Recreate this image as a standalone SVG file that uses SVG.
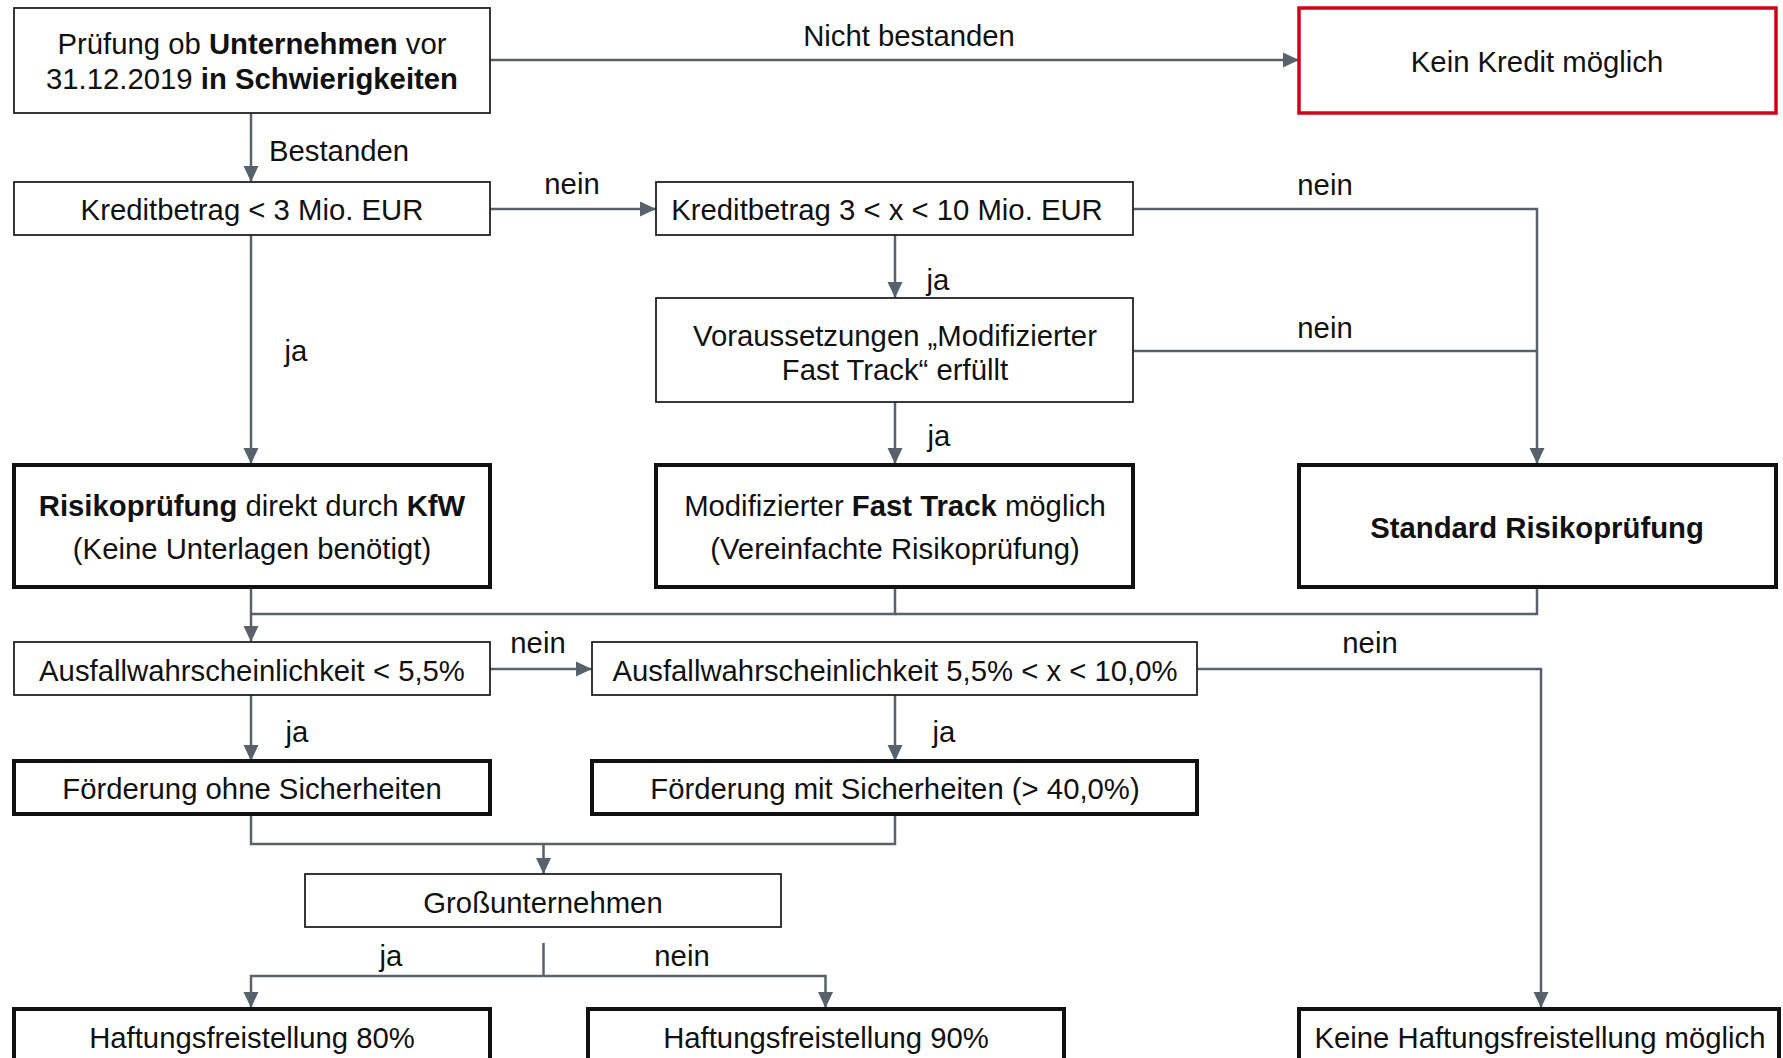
<svg xmlns="http://www.w3.org/2000/svg" width="1783" height="1058" viewBox="0 0 1783 1058">
<style>
  text { font-family: "Liberation Sans", Arial, sans-serif; font-size: 29.3px; fill: #111; }
  .c { text-anchor: middle; }
  .b { font-weight: bold; }
  .thin { fill: #fff; stroke: #222; stroke-width: 1.8; }
  .thick { fill: #fff; stroke: #111; stroke-width: 4; }
  .red { fill: #fff; stroke: #D0021B; stroke-width: 3.5; }
  .ln { fill: none; stroke: #59626B; stroke-width: 2.5; }
  .ar { marker-end: url(#ah); }
</style>
<defs>
  <marker id="ah" markerUnits="userSpaceOnUse" markerWidth="17" markerHeight="17" viewBox="0 0 17 17" refX="16" refY="8.5" orient="auto">
    <path d="M0,1 L16,8.5 L0,16 z" fill="#59626B"/>
  </marker>
</defs>
<rect width="1783" height="1058" fill="#fff"/>

<g id="connectors">
  <line class="ln ar" x1="490" y1="60" x2="1299" y2="60"/>
  <line class="ln ar" x1="251" y1="113" x2="251" y2="182"/>
  <line class="ln ar" x1="490" y1="209" x2="656" y2="209"/>
  <polyline class="ln ar" points="1133,209 1537,209 1537,464"/>
  <line class="ln ar" x1="895" y1="235" x2="895" y2="298"/>
  <line class="ln" x1="1133" y1="351" x2="1537" y2="351"/>
  <line class="ln ar" x1="895" y1="402" x2="895" y2="464"/>
  <line class="ln ar" x1="251" y1="235" x2="251" y2="464"/>
  <line class="ln ar" x1="251" y1="587" x2="251" y2="642"/>
  <polyline class="ln" points="895,587 895,614 251,614"/>
  <polyline class="ln" points="1537,587 1537,614 895,614"/>
  <line class="ln ar" x1="490" y1="669" x2="592" y2="669"/>
  <polyline class="ln ar" points="1197,669 1541,669 1541,1008"/>
  <line class="ln ar" x1="251" y1="695" x2="251" y2="761"/>
  <line class="ln ar" x1="895" y1="695" x2="895" y2="761"/>
  <polyline class="ln" points="251,814 251,844 895,844 895,814"/>
  <line class="ln ar" x1="543.5" y1="844" x2="543.5" y2="874"/>
  <line class="ln" x1="543.5" y1="943" x2="543.5" y2="976"/>
  <polyline class="ln ar" points="543.5,976 251,976 251,1008"/>
  <polyline class="ln ar" points="543.5,976 825.5,976 825.5,1008"/>
</g>

<g id="labels">
  <text class="c" x="909" y="46">Nicht bestanden</text>
  <text x="269" y="161">Bestanden</text>
  <text class="c" x="572" y="194">nein</text>
  <text class="c" x="1325" y="195">nein</text>
  <text class="c" x="938" y="290">ja</text>
  <text class="c" x="1325" y="338">nein</text>
  <text class="c" x="939" y="446">ja</text>
  <text class="c" x="296" y="361">ja</text>
  <text class="c" x="538" y="653">nein</text>
  <text class="c" x="1370" y="653">nein</text>
  <text class="c" x="297" y="742">ja</text>
  <text class="c" x="944" y="742">ja</text>
  <text class="c" x="391" y="966">ja</text>
  <text class="c" x="682" y="966">nein</text>
</g>

<g id="n-pruefung">
  <rect class="thin" x="14" y="8" width="476" height="105"/>
  <text class="c" x="252" y="54">Prüfung ob <tspan class="b">Unternehmen</tspan> vor</text>
  <text class="c" x="252" y="89">31.12.2019 <tspan class="b">in Schwierigkeiten</tspan></text>
</g>
<g id="n-keinkredit">
  <rect class="red" x="1299" y="8" width="477" height="105"/>
  <text class="c" x="1537" y="72">Kein Kredit möglich</text>
</g>
<g id="n-kredit3">
  <rect class="thin" x="14" y="182" width="476" height="53"/>
  <text class="c" x="252" y="220">Kreditbetrag &lt; 3 Mio. EUR</text>
</g>
<g id="n-kredit10">
  <rect class="thin" x="656" y="182" width="477" height="53"/>
  <text class="c" x="887" y="220">Kreditbetrag 3 &lt; x &lt; 10 Mio. EUR</text>
</g>
<g id="n-voraus">
  <rect class="thin" x="656" y="298" width="477" height="104"/>
  <text class="c" x="895" y="346">Voraussetzungen „Modifizierter</text>
  <text class="c" x="895" y="380">Fast Track“ erfüllt</text>
</g>
<g id="n-risiko">
  <rect class="thick" x="14" y="465" width="476" height="122"/>
  <text class="c" x="252" y="516"><tspan class="b">Risikoprüfung</tspan> direkt durch <tspan class="b">KfW</tspan></text>
  <text class="c" x="252" y="559">(Keine Unterlagen benötigt)</text>
</g>
<g id="n-fasttrack">
  <rect class="thick" x="656" y="465" width="477" height="122"/>
  <text class="c" x="895" y="516">Modifizierter <tspan class="b">Fast Track</tspan> möglich</text>
  <text class="c" x="895" y="559">(Vereinfachte Risikoprüfung)</text>
</g>
<g id="n-standard">
  <rect class="thick" x="1299" y="465" width="477" height="122"/>
  <text class="c b" x="1537" y="538">Standard Risikoprüfung</text>
</g>
<g id="n-ausfall1">
  <rect class="thin" x="14" y="642" width="476" height="53"/>
  <text class="c" x="252" y="681">Ausfallwahrscheinlichkeit &lt; 5,5%</text>
</g>
<g id="n-ausfall2">
  <rect class="thin" x="592" y="642" width="605" height="53"/>
  <text class="c" x="895" y="681">Ausfallwahrscheinlichkeit 5,5% &lt; x &lt; 10,0%</text>
</g>
<g id="n-ohne">
  <rect class="thick" x="14" y="761" width="476" height="53"/>
  <text class="c" x="252" y="799">Förderung ohne Sicherheiten</text>
</g>
<g id="n-mit">
  <rect class="thick" x="592" y="761" width="605" height="53"/>
  <text class="c" x="895" y="799">Förderung mit Sicherheiten (&gt; 40,0%)</text>
</g>
<g id="n-gross">
  <rect class="thin" x="305" y="874" width="476" height="53"/>
  <text class="c" x="543" y="913">Großunternehmen</text>
</g>
<g id="n-h80">
  <rect class="thick" x="14" y="1009" width="476" height="80"/>
  <text class="c" x="252" y="1048">Haftungsfreistellung 80%</text>
</g>
<g id="n-h90">
  <rect class="thick" x="588" y="1009" width="476" height="80"/>
  <text class="c" x="826" y="1048">Haftungsfreistellung 90%</text>
</g>
<g id="n-keine">
  <rect class="thick" x="1299" y="1009" width="480" height="80"/>
  <text class="c" x="1540" y="1048">Keine Haftungsfreistellung möglich</text>
</g>
</svg>
